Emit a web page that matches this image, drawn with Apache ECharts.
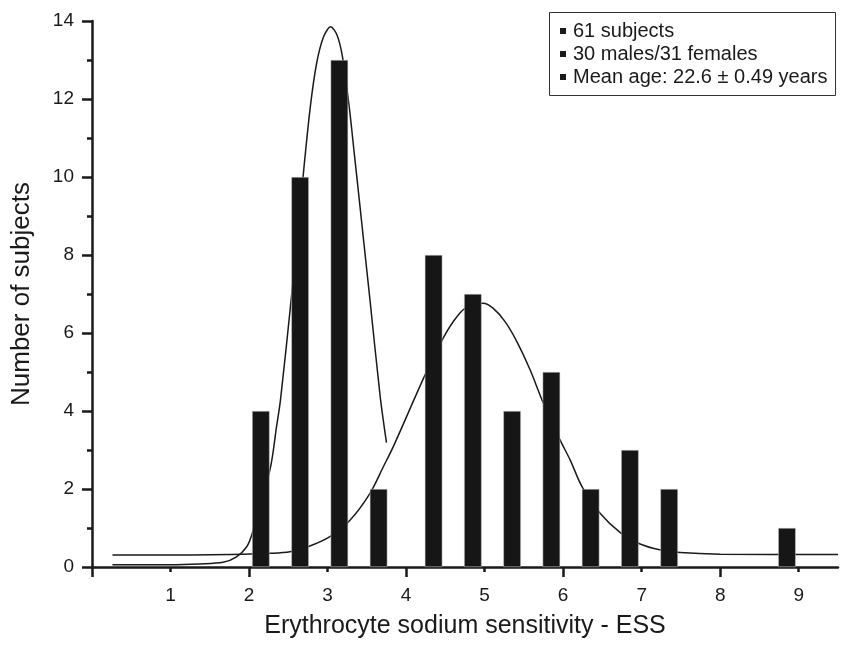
<!DOCTYPE html>
<html>
<head>
<meta charset="utf-8">
<script src="https://cdn.jsdelivr.net/npm/echarts@6/dist/echarts.min.js"></script>
<style>
  html, body { margin: 0; padding: 0; background: #fff; }
  #chart { width: 843px; height: 645px; }
</style>
</head>
<body>
<div id="chart"></div>
<script>
const FONT = '"Liberation Sans", Arial, Helvetica, sans-serif';
const INK = "#1a1a1a";

// histogram bins (ESS) and counts
const binCenters = [2.15, 2.65, 3.15, 3.65, 4.35, 4.85, 5.35, 5.85, 6.35, 6.85, 7.35, 8.85];
const binCounts = [4, 10, 13, 2, 8, 7, 4, 5, 2, 3, 2, 1];

// narrow fitted peak
const fit1X = [0.26, 1.0, 1.37, 1.67, 1.84, 1.97, 2.04, 2.27, 2.35, 2.40, 2.54, 2.70, 2.78, 2.86, 2.95, 3.04, 3.12, 3.19, 3.28, 3.34, 3.41, 3.46, 3.54, 3.67, 3.75];
const fit1Y = [0.06, 0.06, 0.08, 0.12, 0.26, 0.52, 0.86, 2.53, 3.6, 4.28, 6.93, 10.26, 11.8, 12.91, 13.6, 13.85, 13.64, 13.08, 11.72, 10.6, 9.3, 8.35, 6.85, 4.37, 3.19];

// wide fitted peak
const fit2X = [0.26, 1.0, 1.92, 2.27, 2.52, 2.75, 3.03, 3.285, 3.54, 3.71, 3.84, 4.24, 4.47, 4.60, 4.75, 4.98, 5.11, 5.26, 5.41, 5.58, 5.74, 5.96, 6.09, 6.24, 6.47, 6.74, 6.98, 7.23, 7.49, 8.0, 9.5];
const fit2Y = [0.31, 0.31, 0.33, 0.35, 0.39, 0.52, 0.78, 1.2, 1.89, 2.57, 3.1, 4.92, 5.86, 6.29, 6.63, 6.76, 6.63, 6.29, 5.78, 5.05, 4.24, 3.26, 2.74, 2.06, 1.38, 0.86, 0.59, 0.44, 0.37, 0.33, 0.32];

const xMajorTicks = [0, 2, 4, 6, 8];
const xMinorTicks = [1, 3, 5, 7, 9];
const xLabels = [1, 2, 3, 4, 5, 6, 7, 8, 9];

const noteLines = ["61 subjects", "30 males/31 females", "Mean age: 22.6 \u00b1 0.49 years"];

const zip = (xs, ys) => xs.map((x, i) => [x, ys[i]]);

const chart = echarts.init(document.getElementById("chart"), null, { renderer: "canvas" });

const axisLine = { show: true, lineStyle: { color: INK, width: 2.5 } };

// boxed note in the top right corner
const noteGraphics = [
  {
    type: "rect",
    shape: { x: 549.5, y: 12.5, width: 286, height: 83 },
    style: { fill: "#fff", stroke: "#333", lineWidth: 1 },
    z: 10,
  },
];
noteLines.forEach((t, i) => {
  const cy = 31 + i * 23;
  noteGraphics.push({
    type: "rect",
    shape: { x: 560, y: cy - 3, width: 6, height: 6 },
    style: { fill: INK },
    z: 11,
  });
  noteGraphics.push({
    type: "text",
    x: 573,
    y: cy,
    style: {
      text: t,
      font: "20px " + FONT,
      fill: INK,
      verticalAlign: "middle",
    },
    z: 11,
  });
});

chart.setOption({
  animation: false,
  backgroundColor: "#fff",
  textStyle: { fontFamily: FONT, color: INK },
  grid: { left: 92, right: 5, top: 21, bottom: 78 },
  xAxis: [
    {
      type: "value",
      position: "bottom",
      min: 0,
      max: 9.5,
      axisLine: axisLine,
      splitLine: { show: false },
      axisTick: { show: true, customValues: xMajorTicks, length: 10, lineStyle: { color: INK, width: 2.5 } },
      axisLabel: { customValues: xLabels, fontSize: 19, color: INK, margin: 19, fontFamily: FONT },
      name: "Erythrocyte sodium sensitivity - ESS",
      nameLocation: "middle",
      nameGap: 47,
      nameTextStyle: { fontSize: 25, color: INK, fontFamily: FONT },
    },
    {
      // short ticks at the odd values
      type: "value",
      position: "bottom",
      min: 0,
      max: 9.5,
      axisLine: { show: false },
      splitLine: { show: false },
      axisTick: { show: true, customValues: xMinorTicks, length: 5, lineStyle: { color: INK, width: 2.5 } },
      axisLabel: { show: false },
    },
  ],
  yAxis: {
    type: "value",
    min: 0,
    max: 14,
    interval: 2,
    axisLine: axisLine,
    splitLine: { show: false },
    axisTick: { show: true, length: 10, lineStyle: { color: INK, width: 2.5 } },
    minorTick: { show: true, splitNumber: 2, length: 5, lineStyle: { color: INK, width: 2.5 } },
    axisLabel: { fontSize: 19, color: INK, margin: 18, fontFamily: FONT },
    name: "Number of subjects",
    nameLocation: "middle",
    nameGap: 57,
    nameTextStyle: { fontSize: 26, color: INK, fontFamily: FONT },
  },
  graphic: noteGraphics,
  series: [
    {
      type: "line",
      data: zip(fit1X, fit1Y),
      smooth: 0.3,
      symbol: "none",
      lineStyle: { color: INK, width: 1.5 },
      z: 2,
    },
    {
      type: "line",
      data: zip(fit2X, fit2Y),
      smooth: 0.3,
      symbol: "none",
      lineStyle: { color: INK, width: 1.5 },
      z: 2,
    },
    {
      type: "bar",
      data: zip(binCenters, binCounts),
      barWidth: 17.5,
      itemStyle: { color: "#161616", borderColor: "#cfcfcf", borderWidth: 0.5 },
      z: 3,
    },
  ],
});
</script>
</body>
</html>
